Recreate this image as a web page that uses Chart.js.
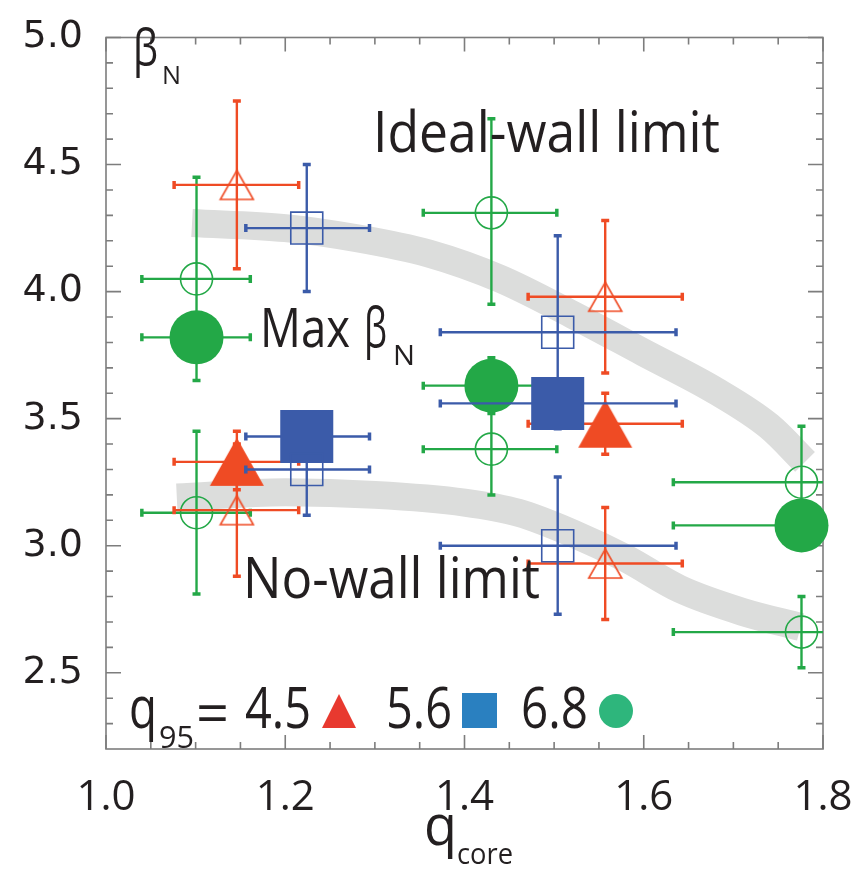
<!DOCTYPE html>
<html>
<head>
<meta charset="utf-8">
<script src="https://cdn.jsdelivr.net/npm/chart.js@4.4.1/dist/chart.umd.min.js"></script>
<style>
  html, body { margin: 0; padding: 0; background: #fff; }
  #wrap { width: 867px; height: 871px; }
</style>
</head>
<body>
<div id="wrap"><canvas id="betaChart" width="867" height="871"></canvas></div>
<script>
(function () {
    'use strict';

    var xTicks = [1.0, 1.2, 1.4, 1.6, 1.8];
    var yTicks = [2.5, 3.0, 3.5, 4.0, 4.5, 5.0];

    // q95 = 4.5 (triangles)
    var redQ      = [1.146, 1.146, 1.146, 1.557, 1.557, 1.557];
    var redBeta   = [4.42, 3.33, 3.14, 3.98, 3.48, 2.93];
    var redQLo    = [1.076, 1.076, 1.076, 1.471, 1.471, 1.471];
    var redQHi    = [1.215, 1.215, 1.215, 1.643, 1.643, 1.643];
    var redBetaLo = [4.09, 3.22, 2.88, 3.68, 3.36, 2.71];
    var redBetaHi = [4.75, 3.45, 3.40, 4.28, 3.60, 3.15];
    var redFilled = [false, true, false, false, true, false];

    // q95 = 5.6 (squares)
    var blueQ      = [1.224, 1.224, 1.224, 1.504, 1.504, 1.504];
    var blueBeta   = [4.25, 3.43, 3.30, 3.84, 3.56, 3.00];
    var blueQLo    = [1.156, 1.156, 1.156, 1.373, 1.373, 1.373];
    var blueQHi    = [1.294, 1.294, 1.294, 1.636, 1.636, 1.636];
    var blueBetaLo = [4.00, 3.38, 3.12, 3.46, 3.50, 2.73];
    var blueBetaHi = [4.50, 3.48, 3.48, 4.22, 3.62, 3.27];
    var blueFilled = [false, true, false, false, true, false];

    // q95 = 6.8 (circles)
    var greenQ      = [1.101, 1.101, 1.101, 1.430, 1.430, 1.430, 1.776, 1.776, 1.776];
    var greenBeta   = [4.05, 3.82, 3.13, 4.31, 3.63, 3.38, 3.25, 3.08, 2.66];
    var greenQLo    = [1.040, 1.040, 1.040, 1.354, 1.354, 1.354, 1.633, 1.633, 1.633];
    var greenQHi    = [1.161, 1.161, 1.161, 1.503, 1.503, 1.503, 1.920, 1.920, 1.920];
    var greenBetaLo = [3.65, 3.73, 2.81, 3.95, 3.52, 3.20, 3.03, 3.00, 2.52];
    var greenBetaHi = [4.45, 3.91, 3.45, 4.68, 3.74, 3.56, 3.47, 3.16, 2.80];
    var greenFilled = [false, true, false, false, true, false, false, true, false];

    // grey limit bands
    var idealQ    = [1.096, 1.20, 1.28, 1.36, 1.44, 1.52, 1.60, 1.68, 1.74, 1.78];
    var idealBeta = [4.27, 4.25, 4.21, 4.15, 4.05, 3.91, 3.76, 3.61, 3.47, 3.33];
    var noWallQ    = [1.079, 1.20, 1.30, 1.40, 1.46, 1.52, 1.58, 1.64, 1.71, 1.775];
    var noWallBeta = [3.19, 3.21, 3.20, 3.17, 3.13, 3.05, 2.95, 2.83, 2.74, 2.68];

    var RED = '#ef4b24', BLUE = '#3b5ba9', GREEN = '#23a847';
    var TEXT = '#231f20', FRAME = '#7d7d7d', BAND = '#dcdddc';
    var SANS = "'Open Sans', sans-serif";

    function makeTriangle(w, h, color, filled) {
        var cv = document.createElement('canvas');
        cv.width = w + 4;
        cv.height = h + 4;
        var c = cv.getContext('2d');
        c.beginPath();
        c.moveTo(cv.width / 2, 2);
        c.lineTo(cv.width - 2, cv.height - 2);
        c.lineTo(2, cv.height - 2);
        c.closePath();
        if (filled) {
            c.fillStyle = color;
            c.fill();
        } else {
            c.strokeStyle = color;
            c.lineWidth = 1.6;
            c.stroke();
        }
        return cv;
    }

    function buildPoints(qs, betas, qLo, qHi, bLo, bHi) {
        return qs.map(function (q, i) {
            return { x: q, y: betas[i], xMin: qLo[i], xMax: qHi[i], yMin: bLo[i], yMax: bHi[i] };
        });
    }

    function series(label, color, pts, filled, openStyle, fillStyle, openR, fillR, order) {
        return {
            type: 'scatter',
            label: label,
            data: pts,
            order: order,
            clip: false,
            errColor: color,
            pointStyle: filled.map(function (f) { return f ? fillStyle : openStyle; }),
            pointRadius: filled.map(function (f) { return f ? fillR : openR; }),
            pointBackgroundColor: filled.map(function (f) { return f ? color : 'rgba(0,0,0,0)'; }),
            pointBorderColor: color,
            pointBorderWidth: filled.map(function (f) { return f ? 0 : 1.6; })
        };
    }

    function band(qs, betas) {
        return {
            type: 'line',
            data: qs.map(function (q, i) { return { x: q, y: betas[i] }; }),
            order: 10,
            borderColor: BAND,
            borderWidth: 28,
            borderCapStyle: 'butt',
            cubicInterpolationMode: 'monotone',
            pointRadius: 0,
            fill: false
        };
    }

    function fitText(c, str, x, baseline, size, width) {
        c.save();
        c.font = size + 'px ' + SANS;
        var w = c.measureText(str).width;
        c.translate(x, baseline);
        c.scale(width / w, 1);
        c.textAlign = 'left';
        c.textBaseline = 'alphabetic';
        c.fillStyle = TEXT;
        c.fillText(str, 0, 0);
        c.restore();
    }

    var errorBars = {
        id: 'errorBars',
        beforeDatasetDraw: function (chart, args) {
            var ds = chart.data.datasets[args.index];
            if (!ds.errColor) return;
            var xs = chart.scales.x, ys = chart.scales.y, a = chart.chartArea, c = chart.ctx;
            c.save();
            c.beginPath();
            c.rect(a.left, a.top, a.right - a.left, a.bottom - a.top);
            c.clip();
            c.strokeStyle = ds.errColor;
            ds.data.forEach(function (p) {
                var px = xs.getPixelForValue(p.x), py = ys.getPixelForValue(p.y);
                var x0 = xs.getPixelForValue(p.xMin), x1 = xs.getPixelForValue(p.xMax);
                var y0 = ys.getPixelForValue(p.yMin), y1 = ys.getPixelForValue(p.yMax);
                c.lineWidth = 2.4;
                c.beginPath();
                c.moveTo(x0, py); c.lineTo(x1, py);
                c.moveTo(px, y0); c.lineTo(px, y1);
                c.stroke();
                c.lineWidth = 3.5;
                c.beginPath();
                c.moveTo(x0, py - 4); c.lineTo(x0, py + 4);
                c.moveTo(x1, py - 4); c.lineTo(x1, py + 4);
                c.moveTo(px - 4, y0); c.lineTo(px + 4, y0);
                c.moveTo(px - 4, y1); c.lineTo(px + 4, y1);
                c.stroke();
            });
            c.restore();
        }
    };

    var frame = {
        id: 'frame',
        beforeDatasetsDraw: function (chart) {
            var xs = chart.scales.x, ys = chart.scales.y, a = chart.chartArea, c = chart.ctx;
            var i, v, p, len;
            c.save();
            c.strokeStyle = FRAME;
            c.lineWidth = 1.6;
            c.strokeRect(a.left, a.top, a.right - a.left, a.bottom - a.top);
            c.beginPath();
            for (i = 0; i <= 16; i++) {
                v = 1.0 + i * 0.05;
                p = xs.getPixelForValue(v);
                len = (i % 4 === 0) ? 14 : 7;
                c.moveTo(p, a.bottom); c.lineTo(p, a.bottom - len);
                c.moveTo(p, a.top); c.lineTo(p, a.top + len);
            }
            for (i = 1; i <= 28; i++) {
                v = 2.2 + i * 0.1;
                p = ys.getPixelForValue(v);
                len = (Math.round(v * 10) % 5 === 0) ? 15 : 7;
                c.moveTo(a.left, p); c.lineTo(a.left + len, p);
                c.moveTo(a.right, p); c.lineTo(a.right - len, p);
            }
            c.stroke();
            c.restore();
        },
        afterDraw: function (chart) {
            var c = chart.ctx;
            fitText(c, '\u03B2', 133, 66, 52, 25);
            fitText(c, 'N', 162, 84, 26, 19);
            fitText(c, 'Ideal-wall limit', 373, 152, 56, 347);
            fitText(c, 'Max', 260, 347, 55, 90);
            fitText(c, '\u03B2', 364, 347, 55, 23);
            fitText(c, 'N', 393, 365, 28, 22);
            fitText(c, 'No-wall limit', 243, 598, 56, 297);

            fitText(c, 'q', 129, 728, 58, 28);
            fitText(c, '95', 159, 748, 31, 35);
            fitText(c, '=', 196, 734, 58, 33);
            fitText(c, '4.5', 245, 728, 56, 66);
            fitText(c, '5.6', 386, 728, 56, 66);
            fitText(c, '6.8', 521, 728, 56, 67);

            c.save();
            c.fillStyle = '#e8392f';
            c.beginPath();
            c.moveTo(339, 694); c.lineTo(356, 728); c.lineTo(322, 728); c.closePath();
            c.fill();
            c.fillStyle = '#2a80c0';
            c.fillRect(462, 693, 35, 35);
            c.fillStyle = '#2eb67c';
            c.beginPath();
            c.arc(616, 711, 17, 0, Math.PI * 2);
            c.fill();
            c.restore();

            fitText(c, 'q', 424, 845, 56, 33);
            fitText(c, 'core', 457, 864, 30, 56);
        }
    };

    var triOpen = makeTriangle(33, 29, RED, false);
    var triFill = makeTriangle(54, 48, RED, true);

    new Chart(document.getElementById('betaChart').getContext('2d'), {
        type: 'scatter',
        data: {
            datasets: [
                band(idealQ, idealBeta),
                band(noWallQ, noWallBeta),
                series('q95 = 6.8', GREEN, buildPoints(greenQ, greenBeta, greenQLo, greenQHi, greenBetaLo, greenBetaHi),
                    greenFilled, 'circle', 'circle', 16, 27, 3),
                series('q95 = 4.5', RED, buildPoints(redQ, redBeta, redQLo, redQHi, redBetaLo, redBetaHi),
                    redFilled, triOpen, triFill, 19, 30, 2),
                series('q95 = 5.6', BLUE, buildPoints(blueQ, blueBeta, blueQLo, blueQHi, blueBetaLo, blueBetaHi),
                    blueFilled, 'rect', 'rect', 22.6, 37.5, 1)
            ]
        },
        options: {
            responsive: false,
            animation: false,
            events: [],
            layout: { padding: { top: 16, right: 44, left: 0, bottom: 0 } },
            plugins: { legend: { display: false }, tooltip: { enabled: false } },
            scales: {
                x: {
                    type: 'linear',
                    min: 1.0,
                    max: 1.8,
                    grid: { display: false, drawTicks: false },
                    border: { display: false },
                    afterBuildTicks: function (s) { s.ticks = xTicks.map(function (v) { return { value: v }; }); },
                    afterFit: function (s) { s.height = 122; s.paddingLeft = 0; s.paddingRight = 0; },
                    ticks: {
                        padding: 24,
                        maxRotation: 0,
                        autoSkip: false,
                        color: TEXT,
                        font: { family: SANS, size: 42 },
                        callback: function (v) { return Number(v).toFixed(1); }
                    }
                },
                y: {
                    type: 'linear',
                    min: 2.2,
                    max: 5.0,
                    grid: { display: false, drawTicks: false },
                    border: { display: false },
                    afterBuildTicks: function (s) { s.ticks = yTicks.map(function (v) { return { value: v }; }); },
                    afterFit: function (s) { s.width = 106; s.paddingTop = 0; s.paddingBottom = 0; },
                    ticks: {
                        padding: 23,
                        autoSkip: false,
                        color: TEXT,
                        font: { family: "'DejaVu Sans', sans-serif", size: 38 },
                        callback: function (v) { return Number(v).toFixed(1); }
                    }
                }
            }
        },
        plugins: [errorBars, frame]
    });
}());
</script>
</body>
</html>
